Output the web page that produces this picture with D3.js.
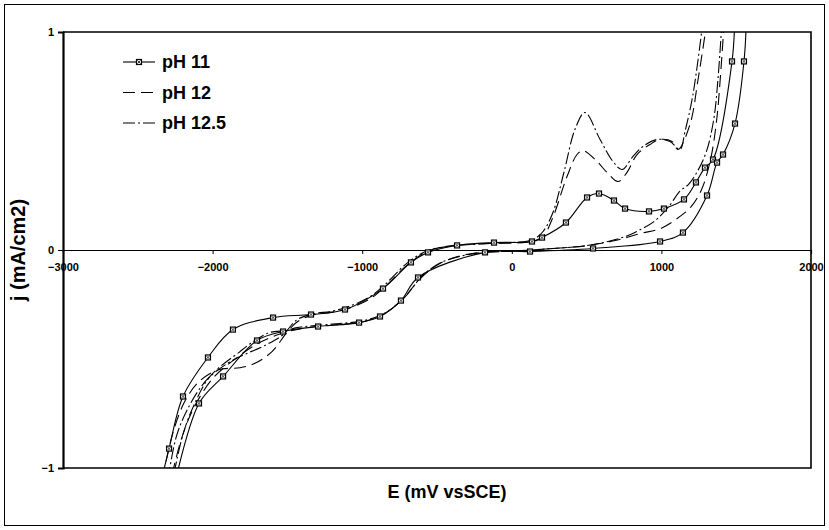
<!DOCTYPE html>
<html><head><meta charset="utf-8">
<script src="https://cdn.jsdelivr.net/npm/d3@7"></script>
<style>body{margin:0;background:#fff}svg{display:block}text{font-family:"Liberation Sans",Arial,sans-serif;font-weight:bold;fill:#000}</style>
</head><body><svg id="c" width="829" height="530"></svg>
<script>
const seriesNames = ["pH 11", "pH 12", "pH 12.5"];
const xTicks = [-3000, -2000, -1000, 0, 1000, 2000];
const yTicks = [-1, 0, 1];
const xTitle = "E (mV vsSCE)";
const yTitle = "j (mA/cm2)";

// [E (mV), j (mA/cm2)]
const ph11Fwd = [[-2340,-1.05],[-2291,-0.911],[-2198,-0.672],[-2031,-0.493],[-1864,-0.365],[-1596,-0.310],[-1342,-0.296],[-1115,-0.273],[-861,-0.177],[-674,-0.057],[-560,-0.011],[-366,0.021],[-119,0.034],[135,0.039],[202,0.057],[362,0.126],[503,0.241],[583,0.259],[683,0.227],[757,0.190],[917,0.177],[1017,0.190],[1151,0.232],[1231,0.310],[1291,0.378],[1345,0.415],[1472,0.865],[1490,1.05]];
const ph11Rev = [[1568,1.05],[1552,0.865],[1492,0.580],[1412,0.438],[1372,0.401],[1305,0.250],[1144,0.080],[991,0.039],[543,0.007],[122,-0.007],[-179,-0.011],[-627,-0.126],[-741,-0.232],[-881,-0.305],[-1021,-0.333],[-1295,-0.351],[-1529,-0.374],[-1703,-0.415],[-1930,-0.580],[-2091,-0.704],[-2245,-1.05]];
const ph12Fwd = [[-2335,-1.05],[-2270,-0.85],[-2190,-0.70],[-2100,-0.61],[-2000,-0.56],[-1930,-0.545],[-1817,-0.54],[-1717,-0.52],[-1603,-0.466],[-1503,-0.378],[-1436,-0.33],[-1340,-0.30],[-1200,-0.285],[-1100,-0.27],[-950,-0.225],[-850,-0.17],[-700,-0.07],[-560,-0.005],[-400,0.02],[-150,0.03],[100,0.036],[200,0.055],[269,0.14],[369,0.337],[436,0.438],[476,0.456],[570,0.406],[636,0.356],[710,0.314],[770,0.356],[837,0.438],[924,0.484],[991,0.507],[1071,0.498],[1111,0.461],[1191,0.576],[1245,0.782],[1305,1.05]];
const ph12Rev = [[1420,1.05],[1395,0.8],[1370,0.6],[1330,0.42],[1270,0.28],[1200,0.2],[1124,0.154],[1000,0.10],[857,0.075],[700,0.045],[500,0.02],[300,0.008],[0,-0.005],[-200,-0.01],[-350,-0.028],[-490,-0.065],[-610,-0.13],[-730,-0.225],[-860,-0.295],[-1000,-0.33],[-1200,-0.345],[-1400,-0.36],[-1550,-0.385],[-1700,-0.43],[-1850,-0.5],[-2000,-0.59],[-2130,-0.73],[-2210,-0.87],[-2278,-1.05]];
const ph125Fwd = [[-2298,-1.05],[-2240,-0.85],[-2160,-0.72],[-2080,-0.63],[-2017,-0.58],[-1900,-0.52],[-1817,-0.489],[-1636,-0.433],[-1529,-0.388],[-1436,-0.32],[-1340,-0.295],[-1200,-0.28],[-1100,-0.262],[-950,-0.215],[-850,-0.16],[-700,-0.06],[-560,-0.002],[-400,0.018],[-150,0.03],[100,0.04],[150,0.05],[209,0.085],[275,0.172],[350,0.36],[422,0.553],[489,0.631],[590,0.507],[676,0.406],[737,0.369],[810,0.429],[877,0.475],[971,0.507],[1057,0.498],[1124,0.461],[1158,0.544],[1211,0.713],[1278,1.05]];
const ph125Rev = [[1405,1.05],[1380,0.8],[1350,0.6],[1300,0.45],[1240,0.36],[1180,0.30],[1124,0.27],[1050,0.2],[950,0.13],[850,0.09],[790,0.07],[650,0.04],[500,0.02],[300,0.008],[0,-0.005],[-200,-0.012],[-350,-0.03],[-480,-0.06],[-600,-0.12],[-720,-0.22],[-850,-0.29],[-1000,-0.325],[-1200,-0.34],[-1436,-0.356],[-1503,-0.369],[-1616,-0.378],[-1717,-0.415],[-1817,-0.466],[-2017,-0.58],[-2130,-0.72],[-2200,-0.85],[-2265,-1.05]];

const series = [
  {name: seriesNames[0], branches: [ph11Fwd, ph11Rev], dash: null, markers: true},
  {name: seriesNames[1], branches: [ph12Fwd, ph12Rev], dash: "12,6", markers: false},
  {name: seriesNames[2], branches: [ph125Fwd, ph125Rev], dash: "12,3,2,3", markers: false}
];

const svg = d3.select("#c");
const L = 63, R = 811, T = 32, B = 468;
const x = d3.scaleLinear().domain([-3000, 2000]).range([L, R]);
const y = d3.scaleLinear().domain([-1, 1]).range([B, T]);
const FONT = "Liberation Sans, Arial, sans-serif";

// outer chart border
svg.append("rect").attr("x", 4.5).attr("y", 4.5).attr("width", 820).attr("height", 521)
  .attr("fill", "#fff").attr("stroke", "#000").attr("stroke-width", 1);

svg.append("defs").append("clipPath").attr("id", "pc").append("rect")
  .attr("x", L).attr("y", T).attr("width", R - L).attr("height", B - T);

// x axis at j = 0
const xAxis = d3.axisBottom(x).tickValues(xTicks).tickSize(4).tickFormat(d3.format("d"));
const gx = svg.append("g").attr("transform", `translate(0,${y(0)})`).call(xAxis);
gx.select(".domain").attr("stroke", "#000").attr("stroke-width", 1.2);
gx.selectAll(".tick line").attr("stroke", "#000");
gx.selectAll(".tick text").attr("font-size", 11).attr("font-family", FONT)
  .attr("font-weight", "bold").attr("dy", "1.3em");

// y axis
const yAxis = d3.axisLeft(y).tickValues(yTicks).tickSize(5).tickFormat(d3.format("d"));
const gy = svg.append("g").attr("transform", `translate(${L},0)`).call(yAxis);
gy.select(".domain").attr("stroke", "#000").attr("stroke-width", 2.2);
gy.selectAll(".tick line").attr("stroke", "#000");
gy.selectAll(".tick text").attr("font-size", 11).attr("font-family", FONT)
  .attr("font-weight", "bold").attr("x", -9);

// curves
const line = d3.line().x(d => x(d[0])).y(d => y(d[1])).curve(d3.curveCatmullRom.alpha(0.5));
const plot = svg.append("g").attr("clip-path", "url(#pc)");
series.forEach(s => {
  s.branches.forEach(br => {
    plot.append("path").attr("d", line(br)).attr("fill", "none").attr("stroke", "#000")
      .attr("stroke-width", 1.1).attr("stroke-dasharray", s.dash);
  });
});
function marker(g) {
  g.append("rect").attr("x", -2.5).attr("y", -2.5).attr("width", 5).attr("height", 5)
    .attr("fill", "#fff").attr("stroke", "#000").attr("stroke-width", 1.2);
  g.append("path").attr("d", "M-1.6,-1.6L1.6,1.6M1.6,-1.6L-1.6,1.6").attr("stroke", "#222").attr("stroke-width", 0.9);
}
series.filter(s => s.markers).forEach(s => {
  s.branches.forEach(br => {
    plot.selectAll(null).data(br.filter(d => Math.abs(d[1]) < 1)).enter().append("g")
      .attr("transform", d => `translate(${x(d[0])},${y(d[1])})`)
      .call(marker);
  });
});

// plot border (top, right, bottom)
svg.append("path").attr("d", `M${L},${T}H${R}V${B}H${L}`).attr("fill", "none")
  .attr("stroke", "#000").attr("stroke-width", 1.6);

// legend
const lg = svg.append("g");
series.forEach((s, i) => {
  const ly = 62 + i * 30.5;
  lg.append("line").attr("x1", 123).attr("x2", 155).attr("y1", ly).attr("y2", ly)
    .attr("stroke", "#000").attr("stroke-width", 1.1).attr("stroke-dasharray", s.dash);
  if (s.markers) {
    lg.append("g").attr("transform", `translate(139,${ly})`).call(marker);
  }
  lg.append("text").attr("x", 162).attr("y", ly).attr("dy", "0.36em").attr("font-size", 18).text(s.name);
});

// axis titles
svg.append("text").attr("x", 447).attr("y", 498).attr("text-anchor", "middle").attr("font-size", 18).text(xTitle);
svg.append("text").attr("transform", "translate(25,250) rotate(-90)").attr("text-anchor", "middle")
  .attr("font-size", 20).text(yTitle);
</script></body></html>
